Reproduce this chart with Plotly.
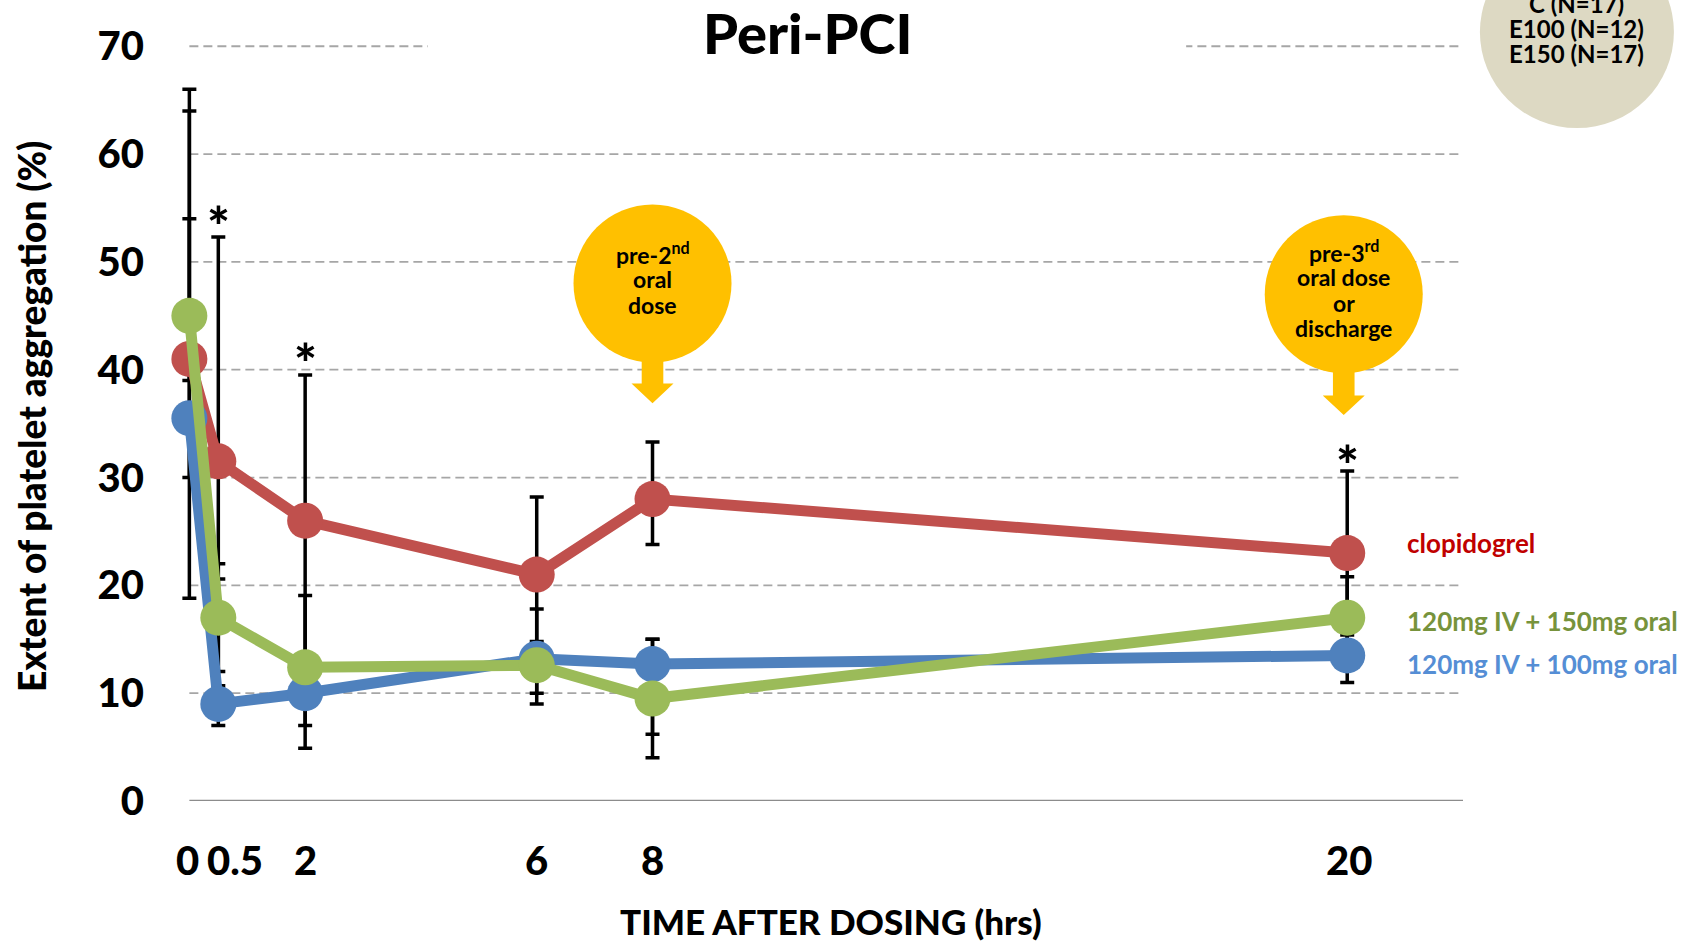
import plotly.graph_objects as go

# ---------------- data ----------------
hours = [0, 0.5, 2, 6, 8, 20]
hour_labels = ["0", "0.5", "2", "6", "8", "20"]
hour_label_shift = [-2, 17, 0, 0, 0, 2]

clopidogrel = [41.0, 31.5, 26.0, 21.0, 28.0, 23.0]
clopidogrel_err_plus = [23.0, 20.8, 13.5, 7.2, 5.3, 7.6]
clopidogrel_err_minus = [22.2, 20.8, 13.5, 7.2, 4.2, 7.6]

e100 = [35.5, 9.0, 10.0, 13.2, 12.7, 13.5]
e100_err_plus = [18.5, 11.6, 3.7, 4.6, 2.3, 2.5]
e100_err_minus = [5.5, 2.0, 3.0, 4.2, 6.5, 2.5]

e150 = [45.0, 17.0, 12.4, 12.6, 9.5, 17.0]
e150_err_plus = [21.0, 5.0, 6.65, 2.2, 5.5, 3.8]
e150_err_minus = [6.0, 5.0, 7.5, 2.6, 5.5, 3.8]

series_names = ["clopidogrel", "120mg IV + 100mg oral", "120mg IV + 150mg oral"]
line_colors = ["#C0504D", "#4F81BD", "#9BBB59"]

y_ticks = [0, 10, 20, 30, 40, 50, 60, 70]

significant_hours = [0.5, 2, 20]
significant_y = [54.7, 42.0, 32.5]

dose_hours = [8, 19.94]
dose_center_y = [48.0, 47.0]
dose_tip_y = [36.9, 35.8]
dose_lines = [["pre-2<sup>nd</sup>", "oral", "dose"],
              ["pre-3<sup>rd</sup>", "oral dose", "or", "discharge"]]

n_lines = ["C (N=17)", "E100 (N=12)", "E150 (N=17)"]

# ---------------- geometry ----------------
W, H = 1699, 941
X_MIN, X_MAX = -0.3, 22
Y_MAX = 70.3
PX_X = 57.87          # pixels per hour
PX_Y = 10.774         # pixels per % unit
X0_PX = 189.6         # pixel position of hour 0
Y0_PX = 800.8         # pixel position of 0 %
L = X0_PX + X_MIN * PX_X
PW = (X_MAX - X_MIN) * PX_X
R = W - L - PW
PH = Y_MAX * PX_Y
B = H - Y0_PX
T = H - B - PH


def px2paper_x(px):
    return (px - L) / PW


def px2paper_y(py):
    return (H - B - py) / PH


def px2data_x(px):
    return (px - X0_PX) / PX_X


def px2data_y(py):
    return (Y0_PX - py) / PX_Y


FONT = "Lato"
BOLD = 900

fig = go.Figure()

# error bars first (behind all lines)
for ys, ep, em in [(clopidogrel, clopidogrel_err_plus, clopidogrel_err_minus),
                   (e100, e100_err_plus, e100_err_minus),
                   (e150, e150_err_plus, e150_err_minus)]:
    fig.add_trace(go.Scatter(
        x=hours, y=ys, mode="markers",
        marker=dict(size=2, opacity=0),
        error_y=dict(type="data", symmetric=False, array=ep, arrayminus=em,
                     color="black", thickness=3.5, width=7),
        cliponaxis=False, hoverinfo="skip", showlegend=False))

# lines
for ys, c, n in [(clopidogrel, line_colors[0], series_names[0]),
                 (e100, line_colors[1], series_names[1]),
                 (e150, line_colors[2], series_names[2])]:
    fig.add_trace(go.Scatter(
        x=hours, y=ys, mode="lines+markers", name=n,
        line=dict(color=c, width=11),
        marker=dict(color=c, size=36),
        cliponaxis=False, showlegend=False))

annotations = []
shapes = []

# gridlines and baseline (from x = 0 to the right end)
for yt in y_ticks[1:]:
    shapes.append(dict(type="line", xref="x", yref="y", x0=0, x1=X_MAX, y0=yt, y1=yt,
                       line=dict(color="#A6A6A6", width=1.8, dash="9px,5px"), layer="below"))
shapes.append(dict(type="line", xref="x", yref="y", x0=0, x1=X_MAX, y0=0, y1=0,
                   line=dict(color="#8C8C8C", width=2.5), layer="below"))

# title background (covers the top gridline) + title
shapes.append(dict(type="rect", xref="x", yref="y",
                   x0=px2data_x(428), x1=px2data_x(1186), y0=px2data_y(56), y1=Y_MAX,
                   fillcolor="white", line=dict(width=0), layer="below"))
annotations.append(dict(x=px2paper_x(807), y=px2paper_y(33), xref="paper", yref="paper",
                        text="Peri-PCI", showarrow=False, xanchor="center", yanchor="middle",
                        font=dict(family=FONT, size=56, color="black", weight=BOLD)))

# x tick labels
for h, lab, sh in zip(hours, hour_labels, hour_label_shift):
    annotations.append(dict(x=h, y=0, xref="x", yref="y", text=lab, showarrow=False,
                            xshift=sh, yshift=-58.5, xanchor="center", yanchor="middle",
                            font=dict(family=FONT, size=40, color="black", weight=BOLD)))

# asterisks
for h, yv in zip(significant_hours, significant_y):
    annotations.append(dict(x=h, y=yv, xref="x", yref="y", text="*", showarrow=False,
                            yshift=-14, xanchor="center", yanchor="middle",
                            font=dict(family=FONT, size=54, color="black", weight=BOLD)))

# axis titles
annotations.append(dict(x=px2paper_x(831), y=px2paper_y(921), xref="paper", yref="paper",
                        text="TIME AFTER DOSING (hrs)", showarrow=False,
                        xanchor="center", yanchor="middle",
                        font=dict(family=FONT, size=35, color="black", weight=BOLD)))
annotations.append(dict(x=px2paper_x(32.5), y=px2paper_y(417), xref="paper", yref="paper",
                        text="Extent of platelet aggregation (%)", showarrow=False,
                        textangle=-90, xanchor="center", yanchor="middle",
                        font=dict(family=FONT, size=37, color="black", weight=BOLD)))

# series labels
label_colors = ["#C00000", "#558ED5", "#77933C"]
label_y_px = [543, 664, 621]
for n, c, py in zip(series_names, label_colors, label_y_px):
    annotations.append(dict(x=px2paper_x(1405), y=px2paper_y(py), xref="paper", yref="paper",
                            text=n, showarrow=False, xanchor="left", yanchor="middle",
                            font=dict(family=FONT, size=26, color=c, weight="bold")))

# dose callouts
R_CALL = 79
stem_hw = 10.8 / PX_X
head_hw = 21.0 / PX_X
head_h = 19.5 / PX_Y
line_gap = 25.5
for hx, cy, tip, lines in zip(dose_hours, dose_center_y, dose_tip_y, dose_lines):
    shapes.append(dict(type="circle", xref="x", yref="y",
                       xsizemode="pixel", ysizemode="pixel",
                       xanchor=hx, yanchor=cy,
                       x0=-R_CALL, x1=R_CALL, y0=-R_CALL, y1=R_CALL,
                       fillcolor="#FFC000", line=dict(width=0), layer="above"))
    stem_top = cy - 4
    head_top = tip + head_h
    path = (f"M {hx - stem_hw},{stem_top} L {hx + stem_hw},{stem_top} "
            f"L {hx + stem_hw},{head_top} L {hx + head_hw},{head_top} "
            f"L {hx},{tip} L {hx - head_hw},{head_top} L {hx - stem_hw},{head_top} Z")
    shapes.append(dict(type="path", xref="x", yref="y", path=path,
                       fillcolor="#FFC000", line=dict(width=0), layer="above"))
    n = len(lines)
    for i, t in enumerate(lines):
        off = (i - (n - 1) / 2) * line_gap
        annotations.append(dict(x=hx, y=cy, xref="x", yref="y", text=t, showarrow=False,
                                xanchor="center", yanchor="middle", yshift=-off + 4,
                                font=dict(family=FONT, size=23, color="black", weight="bold")))

# N circle
shapes.append(dict(type="circle", xref="paper", yref="paper",
                   xsizemode="pixel", ysizemode="pixel",
                   xanchor=px2paper_x(1576.6), yanchor=px2paper_y(32.5),
                   x0=-97, x1=97, y0=-96, y1=96,
                   fillcolor="#DDD9C3", line=dict(width=0), layer="above"))
for i, t in enumerate(n_lines):
    annotations.append(dict(x=px2paper_x(1576.6), y=px2paper_y(4.3 + i * 25), xref="paper",
                            yref="paper", text=t, showarrow=False,
                            xanchor="center", yanchor="middle",
                            font=dict(family=FONT, size=24, color="black", weight="bold")))

fig.update_layout(
    width=W, height=H,
    margin=dict(l=L, r=R, t=T, b=B, autoexpand=False),
    paper_bgcolor="white", plot_bgcolor="white",
    showlegend=False,
    xaxis=dict(range=[X_MIN, X_MAX], showgrid=False, zeroline=False, showline=False,
               showticklabels=False, ticks="", automargin=False, fixedrange=True),
    yaxis=dict(range=[0, Y_MAX], tickvals=y_ticks, showgrid=False,
               zeroline=False, showline=False,
               ticks="outside", ticklen=19, tickcolor="rgba(0,0,0,0)",
               tickfont=dict(family=FONT, size=40, color="black", weight=BOLD),
               automargin=False, fixedrange=True),
    annotations=annotations,
    shapes=shapes,
)

fig.write_html("out.html", config={"displayModeBar": False},
               post_script="document.body.style.margin='0px';document.body.style.padding='0px';")
